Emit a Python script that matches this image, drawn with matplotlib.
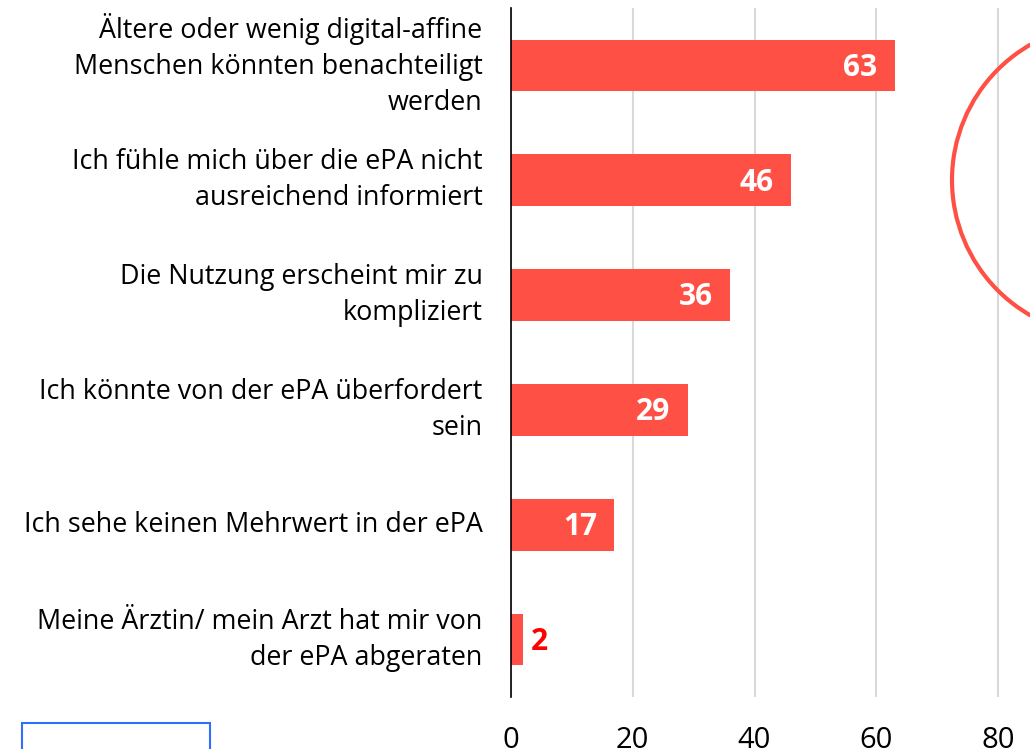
import matplotlib
matplotlib.use("Agg")
import matplotlib.pyplot as plt
from matplotlib.patches import Circle, Rectangle

categories = [
    "Ältere oder wenig digital-affine\nMenschen könnten benachteiligt\nwerden",
    "Ich fühle mich über die ePA nicht\nausreichend informiert",
    "Die Nutzung erscheint mir zu\nkompliziert",
    "Ich könnte von der ePA überfordert\nsein",
    "Ich sehe keinen Mehrwert in der ePA",
    "Meine Ärztin/ mein Arzt hat mir von\nder ePA abgeraten",
]
values = [63, 46, 36, 29, 17, 2]
xticks = [0, 20, 40, 60, 80]

BAR = "#FF5045"
plt.rcParams['font.family'] = ['Open Sans', 'DejaVu Sans']

W, H = 1030, 749
fig = plt.figure(figsize=(W / 100, H / 100), dpi=100)
ax = fig.add_axes([511 / W, 52 / H, (W - 511) / W, 689 / H])

ypos = list(range(len(values)))
ax.barh(ypos, values, height=0.45, color=BAR, zorder=3)
ax.set_ylim(len(values) - 0.5, -0.5)
ax.set_xlim(0, (W - 511) / ((998 - 511) / 80))

for y, v in zip(ypos, values):
    if v >= 10:
        ax.text(v - 2.8, y + 0.02, str(v), ha="right", va="center", color="white",
                fontsize=21.5, fontweight="bold", zorder=4)
    else:
        ax.text(v + 1.3, y + 0.02, str(v), ha="left", va="center", color="#FF0000",
                fontsize=21.5, fontweight="bold", zorder=4)

ax.set_yticks(ypos)
ax.set_yticklabels(categories, fontsize=19.4, linespacing=1.38, va="center")
ax.set_xticks(xticks)
ax.set_xticklabels([str(t) for t in xticks], fontsize=21)
ax.tick_params(axis="y", length=0, pad=20.5)
ax.tick_params(axis="x", length=0, pad=21)
ax.xaxis.grid(True, color="#D9D9D9", linewidth=1.5, zorder=0)
for s in ["top", "right", "bottom"]:
    ax.spines[s].set_visible(False)
ax.spines["left"].set_color("black")
ax.spines["left"].set_linewidth(1.2)
ax.spines["left"].set_zorder(5)

circ = Circle((11.08, (H - 180) / 100), 1.56, transform=fig.dpi_scale_trans,
              fill=False, edgecolor=BAR, linewidth=3, clip_on=False)
fig.add_artist(circ)
rect = Rectangle((0.22, -0.1), 1.88, 0.36, transform=fig.dpi_scale_trans,
                 fill=False, edgecolor="#2F6FFF", linewidth=1.5, clip_on=False)
fig.add_artist(rect)

fig.savefig("out.png", dpi=100)
